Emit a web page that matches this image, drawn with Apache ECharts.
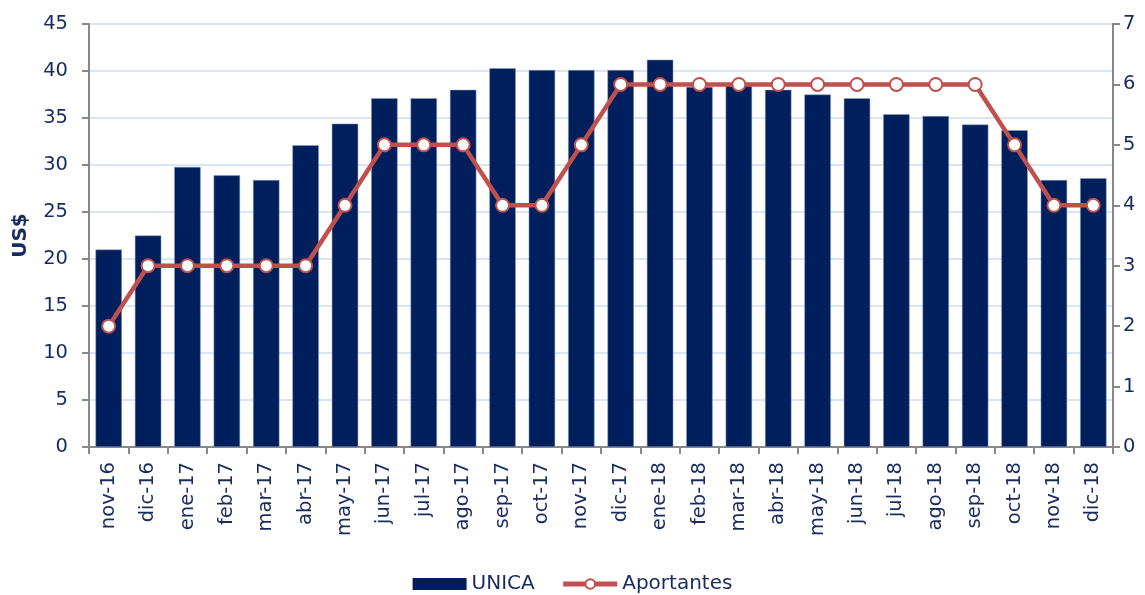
<!DOCTYPE html>
<html><head><meta charset="utf-8">
<script src="https://cdn.jsdelivr.net/npm/echarts@6/dist/echarts.min.js"></script>
<style>html,body{margin:0;padding:0;background:#fff}#c{width:1145px;height:595px}</style>
</head><body><div id="c"></div>
<script>
const categories = ['nov-16','dic-16','ene-17','feb-17','mar-17','abr-17','may-17','jun-17','jul-17','ago-17','sep-17','oct-17','nov-17','dic-17','ene-18','feb-18','mar-18','abr-18','may-18','jun-18','jul-18','ago-18','sep-18','oct-18','nov-18','dic-18'];
const unica = [21.0,22.5,29.8,28.9,28.4,32.1,34.4,37.1,37.1,38.0,40.3,40.1,40.1,40.1,41.2,38.3,38.4,38.0,37.5,37.1,35.4,35.2,34.3,33.7,28.4,28.6];
const aportantes = [2,3,3,3,3,3,4,5,5,5,4,4,5,6,6,6,6,6,6,6,6,6,6,5,4,4];

const txt = '#172b5f';
const font = 'DejaVu Sans';
const red = '#c0504d';
const chart = echarts.init(document.getElementById('c'));
chart.setOption({
  animation:false,
  textStyle:{fontFamily:font,color:txt},
  grid:{left:89,right:32,top:24,bottom:148},
  legend:{
    top:569,left:'center',itemGap:26,itemWidth:54,itemHeight:12,
    textStyle:{fontFamily:font,fontSize:20,color:txt},
    data:[
      {name:'UNICA',icon:'rect',itemStyle:{color:'#001f5c',borderWidth:0}},
      {name:'Aportantes',lineStyle:{color:red,width:5},itemStyle:{color:'#fff',borderColor:red,borderWidth:2}}
    ]
  },
  xAxis:{
    type:'category',data:categories,boundaryGap:true,
    axisLine:{lineStyle:{color:'#888',width:2}},
    axisTick:{show:true,length:7,lineStyle:{color:'#888',width:2}},
    axisLabel:{rotate:90,fontSize:19.5,color:txt,fontFamily:font,margin:15,interval:0}
  },
  yAxis:[{
    type:'value',min:0,max:45,interval:5,
    name:'US$',nameLocation:'middle',nameGap:58,
    nameTextStyle:{fontFamily:font,fontSize:20,fontWeight:'bold',color:txt},
    axisLine:{show:true,lineStyle:{color:'#888',width:2}},
    axisTick:{show:true,length:7,lineStyle:{color:'#888',width:2}},
    axisLabel:{fontSize:19.5,color:txt,fontFamily:font,margin:21},
    splitLine:{lineStyle:{color:'#dce6f2',width:2}}
  },{
    type:'value',min:0,max:7,interval:1,position:'right',
    axisLine:{show:true,lineStyle:{color:'#888',width:2}},
    axisTick:{show:true,length:7,lineStyle:{color:'#888',width:2}},
    axisLabel:{fontSize:19.5,color:txt,fontFamily:font,margin:10},
    splitLine:{show:false}
  }],
  series:[{
    name:'UNICA',type:'bar',data:unica,barCategoryGap:'33%',
    itemStyle:{color:'#001f5c',borderColor:'#8a9cc4',borderWidth:0.5}
  },{
    name:'Aportantes',type:'line',yAxisIndex:1,data:aportantes,
    symbol:'circle',symbolSize:13,
    lineStyle:{color:red,width:4.5},
    itemStyle:{color:'#ffffff',borderColor:red,borderWidth:2}
  }]
});
</script></body></html>
